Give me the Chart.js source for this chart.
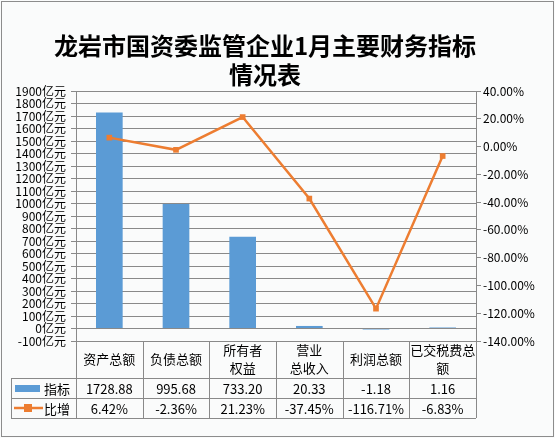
<!DOCTYPE html>
<html lang="zh-CN">
<head>
<meta charset="UTF-8">
<title>龙岩市国资委监管企业1月主要财务指标情况表</title>
<script src="https://cdn.jsdelivr.net/npm/chart.js@4.4.1/dist/chart.umd.min.js"></script>
<style>
  html, body { margin: 0; padding: 0; background: #fff; }
  .chart-box { position: relative; width: 555px; height: 438px; }
</style>
</head>
<body>
<div class="chart-box"><canvas id="finance"></canvas></div>
<script>
// 数据
const titleLines = ['龙岩市国资委监管企业1月主要财务指标', '情况表'];
const categories = [['资产总额'], ['负债总额'], ['所有者', '权益'], ['营业', '总收入'], ['利润总额'], ['已交税费总', '额']];
const seriesNames = ['指标', '比增'];
const indicatorValues = [1728.88, 995.68, 733.20, 20.33, -1.18, 1.16];   // 亿元
const growthValues = [6.42, -2.36, 21.23, -37.45, -116.71, -6.83];       // %

const FONT = '"Noto Sans CJK SC", "Noto Sans", sans-serif';
const BLUE = '#5B9BD5';
const ORANGE = '#ED7D31';
const GRID = '#898989';

// 背景、标题和下方的数据表
const tablePlugin = {
  id: 'dataTable',
  beforeDraw(chart) {
    const ctx = chart.ctx;
    ctx.save();
    ctx.fillStyle = '#fafbfb';
    ctx.fillRect(0, 0, chart.width, chart.height);
    ctx.strokeStyle = '#8c8c8c';
    ctx.lineWidth = 1;
    ctx.strokeRect(1.5, 1.5, chart.width - 3, chart.height - 3);
    ctx.restore();
  },
  afterDraw(chart) {
    const ctx = chart.ctx;
    const x = chart.scales.x;
    const area = chart.chartArea;
    const colW = (x.right - x.left) / categories.length;
    const headTop = area.bottom;
    const headBottom = headTop + 37;
    const row1 = headBottom + 20;
    const row2 = row1 + 20;
    const legendLeft = 11;

    ctx.save();
    // 标题
    ctx.fillStyle = '#000';
    ctx.textAlign = 'center';
    ctx.textBaseline = 'middle';
    ctx.font = 'bold 24px ' + FONT;
    ctx.fillText(titleLines[0], 265, 46);
    ctx.fillText(titleLines[1], 265, 75);

    // 表格线
    ctx.strokeStyle = GRID;
    ctx.lineWidth = 1;
    ctx.beginPath();
    [headBottom, row1, row2].forEach(y => {
      ctx.moveTo(legendLeft, Math.round(y) + 0.5);
      ctx.lineTo(x.right, Math.round(y) + 0.5);
    });
    for (let i = 0; i <= categories.length; i++) {
      const px = Math.round(x.left + i * colW) + 0.5;
      ctx.moveTo(px, headTop);
      ctx.lineTo(px, row2);
    }
    ctx.moveTo(legendLeft + 0.5, headBottom);
    ctx.lineTo(legendLeft + 0.5, row2);
    ctx.stroke();

    // 表头（分类）
    ctx.font = '13px ' + FONT;
    ctx.fillStyle = '#000';
    categories.forEach((lines, i) => {
      const cx = x.getPixelForValue(i);
      const cy = (headTop + headBottom) / 2;
      const lh = 18;
      lines.forEach((t, j) => {
        ctx.fillText(t, cx, cy + (j - (lines.length - 1) / 2) * lh);
      });
    });

    // 数据行
    const y1 = (headBottom + row1) / 2;
    const y2 = (row1 + row2) / 2;
    indicatorValues.forEach((v, i) => {
      ctx.fillText(v.toFixed(2), x.getPixelForValue(i), y1 + 1);
    });
    growthValues.forEach((v, i) => {
      ctx.fillText(v.toFixed(2) + '%', x.getPixelForValue(i), y2 + 1);
    });

    // 图例
    ctx.fillStyle = BLUE;
    ctx.fillRect(15, y1 - 3, 25, 7);
    ctx.strokeStyle = ORANGE;
    ctx.lineWidth = 2.5;
    ctx.beginPath();
    ctx.moveTo(14, y2);
    ctx.lineTo(43, y2);
    ctx.stroke();
    ctx.fillStyle = ORANGE;
    ctx.fillRect(24, y2 - 4, 8, 8);
    ctx.fillStyle = '#000';
    ctx.fillText(seriesNames[0], 57, y1 + 1);
    ctx.fillText(seriesNames[1], 57, y2 + 1);
    ctx.restore();
  }
};

new Chart(document.getElementById('finance').getContext('2d'), {
  type: 'bar',
  data: {
    labels: categories.map(c => c.join('')),
    datasets: [{
      type: 'line',
      label: seriesNames[1],
      data: growthValues,
      yAxisID: 'y1',
      borderColor: ORANGE,
      backgroundColor: ORANGE,
      borderWidth: 2.5,
      pointStyle: 'rect',
      pointRadius: 4,
      pointBorderWidth: 0,
      tension: 0,
      order: 0
    }, {
      label: seriesNames[0],
      data: indicatorValues,
      yAxisID: 'y',
      backgroundColor: BLUE,
      categoryPercentage: 0.8,
      barPercentage: 0.5,
      minBarLength: 1,
      order: 1
    }]
  },
  options: {
    responsive: true,
    maintainAspectRatio: false,
    animation: false,
    layout: { padding: { top: 91, bottom: 60, left: 0, right: 0 } },
    plugins: {
      legend: { display: false },
      title: { display: false },
      tooltip: { enabled: false }
    },
    scales: {
      x: {
        ticks: { display: false },
        grid: { display: false },
        border: { display: false },
        afterFit(scale) { scale.height = 37; }
      },
      y: {
        position: 'left',
        min: -100,
        max: 1900,
        ticks: {
          stepSize: 100,
          autoSkip: false,
          padding: 5,
          color: '#000',
          font: { family: FONT, size: 12, lineHeight: 1 },
          callback: v => v + '亿元'
        },
        grid: { color: GRID, tickLength: 5, lineWidth: 1 },
        border: { color: GRID },
        afterFit(scale) { scale.width = 76; }
      },
      y1: {
        position: 'right',
        min: -140,
        max: 40,
        ticks: {
          stepSize: 20,
          autoSkip: false,
          padding: 2,
          color: '#000',
          font: { family: FONT, size: 12 },
          callback: v => v.toFixed(2) + '%'
        },
        grid: { drawOnChartArea: false, color: GRID, tickLength: 5 },
        border: { color: GRID },
        afterFit(scale) { scale.width = 79; }
      }
    }
  },
  plugins: [tablePlugin]
});
</script>
</body>
</html>
